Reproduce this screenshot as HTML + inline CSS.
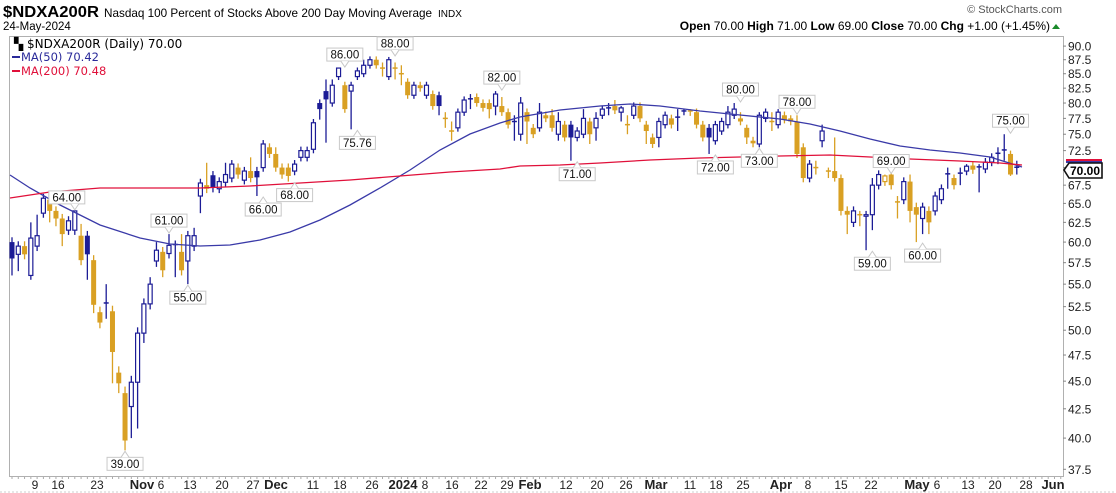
<!DOCTYPE html>
<html><head><meta charset="utf-8">
<style>
html,body{margin:0;padding:0;background:#fff;}
body{width:1116px;height:493px;overflow:hidden;position:relative;font-family:"Liberation Sans",Arial,sans-serif;}
svg{position:absolute;left:0;top:0;}
</style></head><body>
<svg id="c" width="1116" height="493" xmlns="http://www.w3.org/2000/svg" font-family="Liberation Sans, Arial, sans-serif">
<text x="3" y="17" font-size="15.5" font-weight="bold" fill="#000" textLength="96" lengthAdjust="spacingAndGlyphs">$NDXA200R</text>
<text x="104" y="17" font-size="12" fill="#000" textLength="328" lengthAdjust="spacingAndGlyphs">Nasdaq 100 Percent of Stocks Above 200 Day Moving Average</text>
<text x="438" y="17" font-size="10" fill="#000">INDX</text>
<text x="3" y="30" font-size="11.5" fill="#000">24-May-2024</text>
<text x="1062" y="13" font-size="11" fill="#555" text-anchor="end">© StockCharts.com</text>
<text x="1050" y="30" font-size="12" fill="#000" text-anchor="end"><tspan font-weight="bold">Open</tspan> 70.00  <tspan font-weight="bold">High</tspan> 71.00  <tspan font-weight="bold">Low</tspan> 69.00  <tspan font-weight="bold">Close</tspan> 70.00  <tspan font-weight="bold">Chg</tspan> +1.00 (+1.45%)</text>
<polygon points="1052,29 1060,29 1056,24" fill="#1a8a2a"/>
<rect x="9.5" y="36.5" width="1054" height="440" fill="none" stroke="#b0b0b0"/>
<line x1="0" y1="492" x2="1116" y2="492" stroke="#ccc" stroke-dasharray="2,2"/>
<g id="g"></g>
<text x="14" y="48" font-size="12" font-family="DejaVu Sans, sans-serif" fill="#000">▚ $NDXA200R (Daily) 70.00</text>
<line x1="12" y1="57" x2="20" y2="57" stroke="#2a2a9a" stroke-width="2"/>
<text x="21" y="61" font-size="11.5" font-family="DejaVu Sans, sans-serif" fill="#2a2a9a">MA(50) 70.42</text>
<line x1="12" y1="71" x2="20" y2="71" stroke="#e0103a" stroke-width="2"/>
<text x="21" y="75" font-size="11.5" font-family="DejaVu Sans, sans-serif" fill="#e0103a">MA(200) 70.48</text>
</svg>
<script>
const g=document.getElementById('g');
const NS='http://www.w3.org/2000/svg';
function el(t,a,txt){const e=document.createElementNS(NS,t);for(const k in a)e.setAttribute(k,a[k]);if(txt!=null)e.textContent=txt;g.appendChild(e);return e;}
const Y=v=>2221.3-483.4*Math.log(v);
const X=i=>12+i*6.28;
const D=[
[60,58,,56],[58.5,59.5,,56.5],[59.5,58.5],[56,60.5,62.5,55.5],[59.5,60.8,63.5],[63.7,65.7],[65.5,64,,62.5],[64,63,,62],[63,61,,59.5],[61.5,62.7],
[61.5,64,64],[60.8,57.8,62.3],[60.8,58.5,,55.5],[57.8,52.7,,51.8],[51.9,50.8],[52.8,52.9,55,51.2],[52,47.8,,44.8],[45.8,44.8,,43.9],[43.9,39.8,44.5,39],[42.7,44.9,,40],
[44.9,49.7,,40.8],[49.7,52.8,,48.7],[52.8,55,55.8],[57.7,59,60,57],[58.8,56.6,,55.8],[58.6,59.6,61],[59.6,59.7,60.2,55.8],[58.8,56.6,61],[57.7,60.8,,55],[59.5,60.8,61.8],
[66,67.8,,63.7],[67.5,67,70.7],[68.9,67.2,,66.5],[67,68],[67.9,69,70.7],[68.5,70.5],[70,69],[68.2,69.5],[69.5,68.5,71.5],[69.5,68.6,,66],
[70,73.5],[73,72],[72,70,73],[70,69],[70,68.8,,68],[69.5,70.5],[71.5,72.5],[71.5,72.5],[72.7,76.8],[80,79,,77.3],
[82,80.6,84,73.7],[80,83,84],[84.5,86,86],[83,79],[82,83,,75.76],[84.5,85.5],[85,86.5,87.5],[86.5,87.5],[87.5,86.5],[86,85.9,87,84.5],
[84.5,87.5,88],[86,85.8,87,84],[85,84.8,86.5,83],[83.6,81.3],[81.3,83],[83,82.5],[81.3,83],[81.5,79.5],[81.3,79.5,,78],[77.5,77.3,78.5,76],
[75.5,75.3,77,74],[76,78.5],[78.5,80.5],[80.5,80.7,81.5,79],[81,80],[80,79.2],[80,79,,77.5],[79.5,81.5,82,78],[79.5,78.5,81],[78.5,76.5],
[77,76.8,78,74],[75,80,81,74],[78.5,77,,73.5],[76,75],[76,78.5,80],[78,77.5],[78,76,79],[75,77,78.5,74],[76.5,74.5],[76.5,74.5,,71],
[74.5,75.5],[75,77.5,79],[77,75,,73.5],[76,77.5,78.5,74],[78,79],[79,79.2,80,78],[79.5,78.8,80.5],[78.5,79.2,79.5,77],[76.5,76.3,78,75],[78,79.5],
[79.5,77.5],[76.5,75.5,,73.5],[74.5,73.5],[74.5,77,,73],[76.5,78],[77.5,76.5],[77.7,77.5,79,75.5],[78.5,78.7,79,78],[78.7,78.5,79],[78.5,76.5],
[76.5,74.5],[76,74.5,,72],[74,76.5],[75.5,77],[76.5,78.5,79.5],[78,79,80],[77.5,77,78.5],[76,74.5,76.5,73.5],[74,73.6,,73],[73.5,78,78.5,73],
[77.5,78.5],[77,76.8,78.5,75.5],[76.5,78.5,79],[78,77.3],[77.5,77,78],[77,72,78],[73,68.5],[68.5,70.5],[70,69.9,71,69],[74,75.5,76.5,73],
[69.5,69.3,70,68.5],[69.5,68.5,74.5,68],[68.5,64,69],[64,63.5,,61],[62.5,64],[63.5,63.4,64,62],[63.3,63.5,64,59],[63.5,67.5,68.5,61.5],[67.5,69],[68,68.8,69],
[69,67.5,69.5],[65,65.2,66,63],[65.5,68],[68,64,69,62.5],[64.5,63.5,,60],[63,64.5,,61],[64,62.5,,61],[64,66],[65.5,67],[69,69.1,70,67],
[68.5,67.5,69],[69,69.2,70,67.5],[69.5,70.2,70.5],[70.3,69.7],[70,70.1,70.5,66.5],[69.8,70.8],[70.8,71.5],[72,72.1,73,70.5],[72.5,72.6,75,71],[72,69,72.5,68.8],
[70,70.05,71,69]
];
const BLUE='#1c1c96',GOLD='#d9a023';
let prev=null;
D.forEach((d,i)=>{
  let [o,c,h,l]=d;
  if(h==null)h=Math.max(o,c)+0.6;
  if(l==null)l=Math.min(o,c)-0.6;
  const col=(prev==null||c>=prev)?BLUE:GOLD;
  prev=c;
  const x=X(i);
  el('line',{x1:x,y1:Y(h),x2:x,y2:Y(l),stroke:col,'stroke-width':1.3});
  const yt=Y(Math.max(o,c)),yb=Y(Math.min(o,c));
  if(yb-yt<1.5){el('line',{x1:x-2.5,y1:yt,x2:x+2.5,y2:yt,stroke:col,'stroke-width':1.5});}
  else if(c>o){el('rect',{x:x-2,y:yt,width:4,height:yb-yt,fill:'#fff',stroke:col,'stroke-width':1.2});}
  else{el('rect',{x:x-2.5,y:yt,width:5,height:yb-yt,fill:col});}
});
const ma50=[[10,175],[30,188],[60,205],[100,225],[140,238],[170,244],[200,246],[230,245],[260,240],[290,232],[320,220],[350,205],[380,188],[410,170],[440,150],[470,134],[500,123],[520,117],[560,110],[600,106],[630,104],[660,106],[700,111],[740,115],[780,119],[810,124],[840,131],[870,139],[900,146],[930,150],[960,153],[990,157],[1022,167]];
const ma200=[[10,198],[50,192],[100,188],[150,188],[200,188],[250,186],[300,183],[350,180],[400,176],[450,172],[500,169],[520,166],[560,165],[600,163],[650,160],[700,158],[740,157],[780,156],[830,155],[870,157],[910,159],[960,161],[1000,163],[1022,165]];
el('polyline',{points:ma50.map(p=>p.join(',')).join(' '),fill:'none',stroke:'#3a3aa8','stroke-width':1.3});
el('polyline',{points:ma200.map(p=>p.join(',')).join(' '),fill:'none',stroke:'#e0103a','stroke-width':1.3});
const ann=[[10,64,'h','64.00',-8],[25,61,'h','61.00',0],[28,55,'l','55.00',0],[18,39,'l','39.00',0],[40,66,'l','66.00',0],[45,68,'l','68.00',0],[53,86,'h','86.00',0],[55,75.76,'l','75.76',0],[61,88,'h','88.00',0],[78,82,'h','82.00',0],[90,71,'l','71.00',0],[112,72,'l','72.00',0],[116,80,'h','80.00',0],[119,73,'l','73.00',0],[125,78,'h','78.00',0],[137,59,'l','59.00',0],[140,69,'h','69.00',0],[145,60,'l','60.00',0],[159,75,'h','75.00',0]];
ann.forEach(([i,v,t,s,dx])=>{
  const x=X(i),y=Y(v),w=36,h=13,bx=x-w/2+dx;
  let by;
  if(t=='h'){by=y-7-h;}else{by=y+7;}
  el('rect',{x:bx,y:by,width:w,height:h,fill:'#fff',stroke:'#c8c8c8'});
  if(t=='h')el('polyline',{points:`${x-4},${by+h} ${x},${y-1} ${x+4},${by+h}`,fill:'#fff',stroke:'#c8c8c8'});
  else el('polyline',{points:`${x-4},${by} ${x},${y+1} ${x+4},${by}`,fill:'#fff',stroke:'#c8c8c8'});
  el('text',{x:bx+w/2,y:by+10.5,'font-size':11.5,'text-anchor':'middle',fill:'#111'},s);
});
for(let v=90;v>=37.5;v-=2.5){
  const y=Y(v);
  el('line',{x1:1063,y1:y,x2:1066,y2:y,stroke:'#888'});
  if(v!==70)el('text',{x:1068,y:y+4.5,'font-size':12,fill:'#222'},v.toFixed(1));
}
for(let x=12;x<1063;x+=6.28)el('line',{x1:x,y1:477,x2:x,y2:479,stroke:'#aaa'});
el('line',{x1:1066,y1:160,x2:1102,y2:160,stroke:'#e0103a','stroke-width':2});
el('line',{x1:1066,y1:162,x2:1102,y2:162,stroke:'#3a3aa8','stroke-width':2});
el('polygon',{points:'1064,170 1069,163 1102,163 1102,178 1069,178',fill:'#fff',stroke:'#111','stroke-width':1.6});
el('text',{x:1070,y:175,'font-size':12,'font-weight':'bold',fill:'#000',textLength:30,lengthAdjust:'spacingAndGlyphs'},'70.00');
const xl=[['9',35],['16',58],['23',97],['Nov',142,1],['6',161],['13',190],['20',222],['27',253],['Dec',276,1],['11',313],['18',340],['26',372],['2024',403,1],['8',425],['16',452],['22',481],['29',507],['Feb',530,1],['12',566],['20',597],['26',626],['Mar',656,1],['11',690],['18',716],['25',743],['Apr',781,1],['8',808],['15',841],['22',871],['May',917,1],['6',937],['13',968],['20',995],['28',1026],['Jun',1053,1]];
xl.forEach(([s,x,b])=>{el('text',{x:x,y:489,'font-size':b?13:12,'font-weight':b?'bold':'normal','text-anchor':'middle',fill:'#222'},s);});
</script>
</body></html>
